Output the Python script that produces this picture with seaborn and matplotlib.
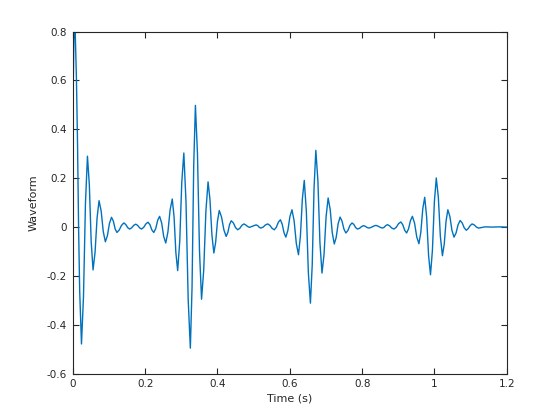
import matplotlib
matplotlib.use("Agg")
import matplotlib.pyplot as plt
import seaborn as sns
import pandas as pd

# Time (s) and waveform values
time_s = [
    0.000, 0.003, 0.0055, 0.007, 0.010, 0.013, 0.016, 0.019, 0.024,
    0.0295, 0.035, 0.0405, 0.0457, 0.0508, 0.056, 0.0615, 0.0671, 0.0726,
    0.0784, 0.0842, 0.090, 0.0957, 0.1013, 0.107, 0.112, 0.117, 0.122,
    0.1283, 0.1347, 0.141, 0.1463, 0.1517, 0.157, 0.1627, 0.1683, 0.174,
    0.1793, 0.1847, 0.190, 0.196, 0.202, 0.208, 0.2133, 0.2187, 0.224,
    0.2293, 0.2347, 0.240, 0.2457, 0.2513, 0.257, 0.263, 0.269, 0.275,
    0.280, 0.285, 0.290, 0.2957, 0.3013, 0.307, 0.313, 0.319, 0.325,
    0.3297, 0.3343, 0.339, 0.3447, 0.3503, 0.356, 0.362, 0.368, 0.374,
    0.3793, 0.3847, 0.390, 0.395, 0.400, 0.405, 0.4113, 0.4177, 0.424,
    0.4287, 0.4333, 0.438, 0.444, 0.450, 0.456, 0.4617, 0.4673, 0.473,
    0.478, 0.483, 0.488, 0.4943, 0.5007, 0.507, 0.5113, 0.5157, 0.520,
    0.5263, 0.5327, 0.539, 0.545, 0.551, 0.557, 0.5627, 0.5683, 0.574,
    0.579, 0.584, 0.589, 0.5947, 0.6003, 0.606, 0.612, 0.618, 0.624,
    0.6293, 0.6347, 0.640, 0.6457, 0.6513, 0.657, 0.662, 0.667, 0.672,
    0.6777, 0.6833, 0.689, 0.6947, 0.7003, 0.706, 0.7117, 0.7173, 0.723,
    0.7283, 0.7337, 0.739, 0.7443, 0.7497, 0.755, 0.7607, 0.7663, 0.772,
    0.777, 0.782, 0.787, 0.7927, 0.7983, 0.804, 0.809, 0.814, 0.819,
    0.8253, 0.8317, 0.838, 0.844, 0.850, 0.856, 0.8607, 0.8653, 0.870,
    0.876, 0.882, 0.888, 0.8943, 0.9007, 0.907, 0.9123, 0.9177, 0.923,
    0.9283, 0.9337, 0.939, 0.945, 0.951, 0.957, 0.9623, 0.9677, 0.973,
    0.9783, 0.9837, 0.989, 0.9943, 0.9997, 1.005, 1.0107, 1.0163, 1.022,
    1.027, 1.032, 1.037, 1.0427, 1.0483, 1.054, 1.0597, 1.0653, 1.071,
    1.0767, 1.0823, 1.088, 1.0933, 1.0987, 1.104, 1.110, 1.116, 1.122,
    1.140, 1.160, 1.180, 1.200]
waveform = [
    0.46, 0.77, 0.795, 0.78, 0.61, 0.35, 0.0, -0.26, -0.478,
    -0.286, 0.098, 0.29, 0.174, -0.059, -0.175, -0.104, 0.037, 0.108,
    0.066, -0.018, -0.06, -0.035, 0.015, 0.04, 0.025, -0.007, -0.022,
    -0.012, 0.007, 0.017, 0.011, -0.002, -0.008, -0.003, 0.007, 0.012,
    0.007, -0.003, -0.008, -0.001, 0.013, 0.02, 0.010, -0.012, -0.022,
    -0.006, 0.028, 0.044, 0.017, -0.038, -0.065, -0.020, 0.070, 0.115,
    0.042, -0.105, -0.178, -0.058, 0.183, 0.303, 0.103, -0.295, -0.495,
    -0.247, 0.250, 0.498, 0.300, -0.097, -0.295, -0.175, 0.065, 0.185,
    0.112, -0.033, -0.106, -0.062, 0.024, 0.068, 0.041, -0.011, -0.038,
    -0.022, 0.010, 0.026, 0.017, -0.002, -0.011, -0.005, 0.007, 0.013,
    0.009, 0.003, -0.001, 0.002, 0.006, 0.009, 0.006, -0.001, -0.004,
    0.000, 0.009, 0.013, 0.007, -0.005, -0.011, -0.001, 0.020, 0.03,
    0.012, -0.023, -0.041, -0.013, 0.043, 0.071, 0.025, -0.067, -0.113,
    -0.037, 0.115, 0.191, 0.066, -0.186, -0.311, -0.155, 0.158, 0.314,
    0.189, -0.063, -0.188, -0.111, 0.042, 0.119, 0.072, -0.022, -0.069,
    -0.042, 0.014, 0.041, 0.025, -0.008, -0.024, -0.014, 0.007, 0.017,
    0.011, -0.002, -0.008, -0.005, 0.002, 0.006, 0.003, -0.002, -0.004,
    -0.001, 0.004, 0.007, 0.004, -0.001, -0.004, -0.001, 0.006, 0.01,
    0.005, -0.004, -0.008, -0.001, 0.014, 0.021, 0.010, -0.013, -0.024,
    -0.007, 0.027, 0.044, 0.016, -0.040, -0.068, -0.021, 0.075, 0.122,
    0.043, -0.116, -0.195, -0.096, 0.102, 0.201, 0.122, -0.038, -0.117,
    -0.070, 0.024, 0.071, 0.043, -0.013, -0.041, -0.024, 0.010, 0.027,
    0.017, -0.003, -0.013, -0.006, 0.006, 0.013, 0.009, 0.000, -0.004,
    0.001, 0.0, 0.001, 0.0]

x_ticks = [0, 0.2, 0.4, 0.6, 0.8, 1.0, 1.2]
x_tick_labels = ["0", "0.2", "0.4", "0.6", "0.8", "1", "1.2"]
y_ticks = [-0.6, -0.4, -0.2, 0, 0.2, 0.4, 0.6, 0.8]
y_tick_labels = ["-0.6", "-0.4", "-0.2", "0", "0.2", "0.4", "0.6", "0.8"]

sns.set_style("white")
plt.rcParams["font.family"] = ["DejaVu Sans"]
plt.rcParams["axes.unicode_minus"] = False

df = pd.DataFrame({"Time (s)": time_s, "Waveform": waveform})

fig = plt.figure(figsize=(5.6, 4.2), dpi=100)
ax = fig.add_axes([0.13, 0.11, 0.775, 0.815])
sns.lineplot(data=df, x="Time (s)", y="Waveform", ax=ax, color="#0072BD",
             linewidth=1.0, sort=False, estimator=None)

ax.set_xlim(0, 1.2)
ax.set_ylim(-0.6, 0.8)
ax.set_xticks(x_ticks)
ax.set_xticklabels(x_tick_labels)
ax.set_yticks(y_ticks)
ax.set_yticklabels(y_tick_labels)

dark = "#262626"
for s in ax.spines.values():
    s.set_visible(True)
    s.set_color(dark)
    s.set_linewidth(0.8)
ax.tick_params(direction="in", length=4, width=0.8, color=dark, labelcolor=dark,
               labelsize=7.5, top=True, right=True, bottom=True, left=True, pad=4)
ax.set_xlabel("Time (s)", fontsize=8, color=dark, labelpad=3)
ax.set_ylabel("Waveform", fontsize=8, color=dark, labelpad=6)
ax.grid(False)

fig.savefig("out.png", dpi=100)
